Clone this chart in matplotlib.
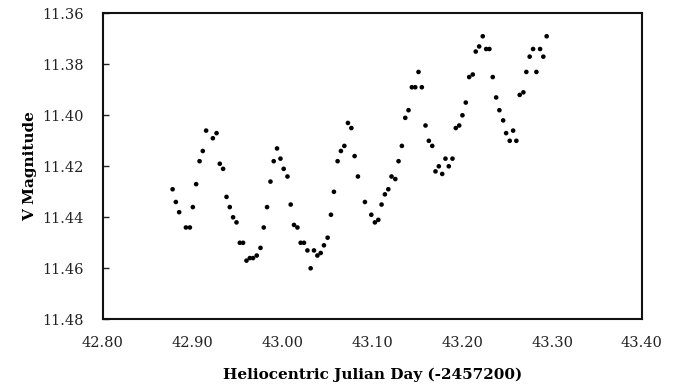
import matplotlib
matplotlib.use("Agg")
import matplotlib.pyplot as plt

hjd = [42.8778, 42.8814, 42.8851, 42.8926, 42.8970, 42.9003, 42.9040, 42.9078, 42.9114, 42.9151,
       42.9226, 42.9267, 42.9303, 42.9340, 42.9378, 42.9414, 42.9451, 42.9489, 42.9526, 42.9562,
       42.9600, 42.9637, 42.9673, 42.9714, 42.9756, 42.9792, 42.9829, 42.9867, 42.9903, 42.9940,
       42.9978, 43.0014, 43.0056, 43.0092, 43.0129, 43.0167, 43.0203, 43.0240, 43.0278, 43.0314,
       43.0351, 43.0389, 43.0426, 43.0462, 43.0503, 43.0540, 43.0573, 43.0614, 43.0651, 43.0689,
       43.0729, 43.0767, 43.0803, 43.0840, 43.0918, 43.0989, 43.1029, 43.1067, 43.1103, 43.1140,
       43.1178, 43.1214, 43.1256, 43.1292, 43.1329, 43.1367, 43.1403, 43.1440, 43.1478, 43.1514,
       43.1551, 43.1592, 43.1629, 43.1667, 43.1703, 43.1740, 43.1778, 43.1814, 43.1851, 43.1892,
       43.1929, 43.1967, 43.2003, 43.2040, 43.2078, 43.2118, 43.2151, 43.2189, 43.2229, 43.2267,
       43.2303, 43.2340, 43.2378, 43.2414, 43.2456, 43.2489, 43.2529, 43.2567, 43.2603, 43.2640,
       43.2681, 43.2714, 43.2751, 43.2789, 43.2826, 43.2867, 43.2903, 43.2940]

vmag = [11.429, 11.434, 11.438, 11.444, 11.444, 11.436, 11.427, 11.418, 11.414, 11.406,
        11.409, 11.407, 11.419, 11.421, 11.432, 11.436, 11.440, 11.442, 11.450, 11.450,
        11.457, 11.456, 11.456, 11.455, 11.452, 11.444, 11.436, 11.426, 11.418, 11.413,
        11.417, 11.421, 11.424, 11.435, 11.443, 11.444, 11.450, 11.450, 11.453, 11.460,
        11.453, 11.455, 11.454, 11.451, 11.448, 11.439, 11.430, 11.418, 11.414, 11.412,
        11.403, 11.405, 11.416, 11.424, 11.434, 11.439, 11.442, 11.441, 11.435, 11.431,
        11.429, 11.424, 11.425, 11.418, 11.412, 11.401, 11.398, 11.389, 11.389, 11.383,
        11.389, 11.404, 11.410, 11.412, 11.422, 11.420, 11.423, 11.417, 11.420, 11.417,
        11.405, 11.404, 11.400, 11.395, 11.385, 11.384, 11.375, 11.373, 11.369, 11.374,
        11.374, 11.385, 11.393, 11.398, 11.402, 11.407, 11.410, 11.406, 11.410, 11.392,
        11.391, 11.383, 11.377, 11.374, 11.383, 11.374, 11.377, 11.369]

x_ticks = [42.80, 42.90, 43.00, 43.10, 43.20, 43.30, 43.40]
y_ticks = [11.36, 11.38, 11.40, 11.42, 11.44, 11.46, 11.48]

plt.rcParams['font.family'] = ['DejaVu Serif']

fig = plt.figure(figsize=(6.8, 3.87), dpi=100)
ax = fig.add_axes([0.151, 0.175, 0.793, 0.7906])

ax.scatter(hjd, vmag, s=11, color='black', edgecolors='none', zorder=3)

ax.set_xlim(42.80, 43.40)
ax.set_ylim(11.48, 11.36)
ax.set_xticks(x_ticks)
ax.set_xticklabels([f"{v:.2f}" for v in x_ticks])
ax.set_yticks(y_ticks)
ax.set_yticklabels([f"{v:.2f}" for v in y_ticks])

ax.tick_params(axis='x', length=0, labelsize=10.5, pad=12, colors='#222222')
ax.tick_params(axis='y', direction='in', length=4, width=1, labelsize=10.5, pad=13.5, colors='#222222')
for s in ax.spines.values():
    s.set_linewidth(1.5)
    s.set_color('#111111')

ax.set_xlabel("Heliocentric Julian Day (-2457200)", fontsize=11, fontweight='bold', labelpad=13)
ax.set_ylabel("V Magnitude", fontsize=11, fontweight='bold', labelpad=4)

fig.savefig("out.png", dpi=100)
